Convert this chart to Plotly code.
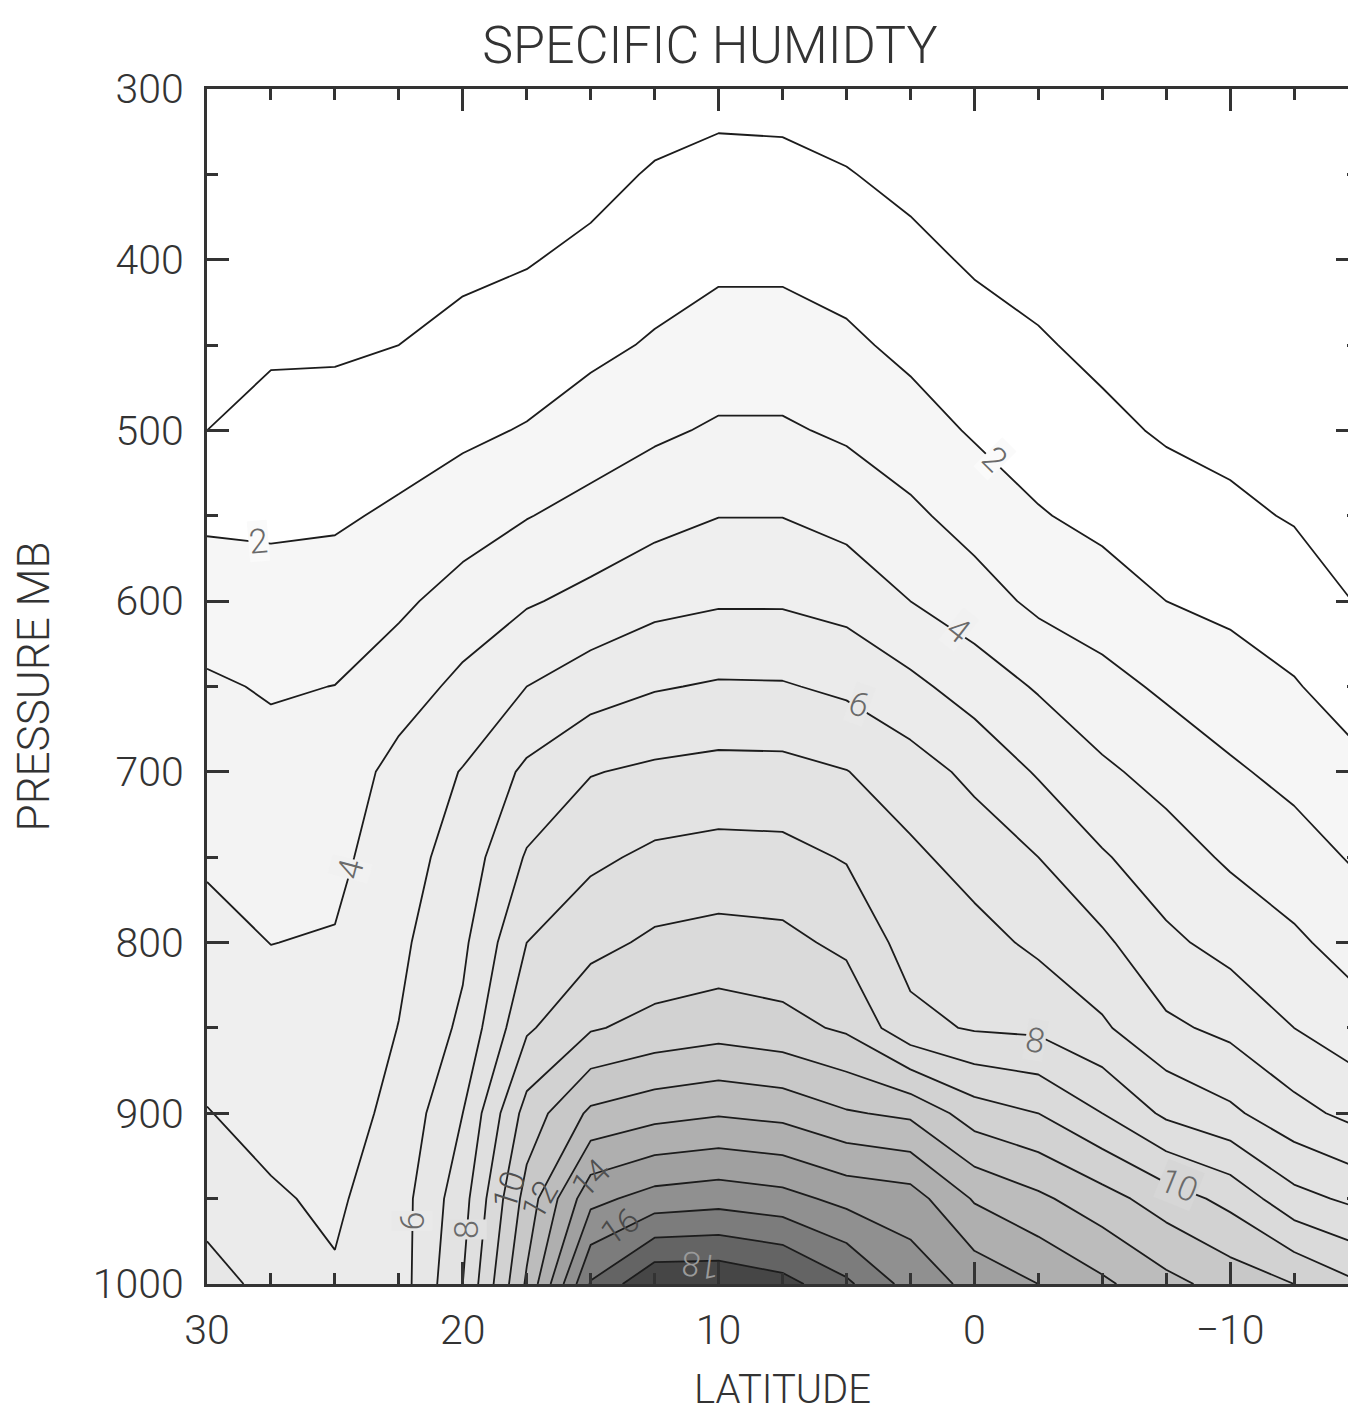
import plotly.graph_objects as go

# latitude columns (deg N) and pressure levels (mb)
LAT = [30, 27.5, 25, 22.5, 20, 17.5, 15, 12.5, 10, 7.5, 5, 2.5, 0,
       -2.5, -5, -7.5, -10, -12.5, -15]
PRES = [1000, 950, 900, 850, 800, 750, 700, 650, 600, 550, 500, 450, 400, 350, 300]

# specific humidity (g/kg), one row per pressure level
q1000 = [6.4, 5.7, 5.1, 5.5, 8.0, 12.15, 17.1, 18.9, 18.9, 18.4, 17.2, 15.6, 14.7, 14.0, 13.2, 12.3, 11.6, 11.0, 10.1]
q950 = [5.6, 5.1, 4.85, 5.55, 7.6, 11.4, 14.7, 15.4, 15.6, 15.35, 14.7, 14.45, 12.9, 12.2, 11.4, 10.5, 9.7, 8.33, 7.75]
q900 = [5.03, 4.73, 4.6, 5.25, 7.0, 10.4, 12.2, 12.65, 12.9, 12.7, 12.1, 11.8, 10.5, 10.0, 9.0, 7.8, 7.2, 6.33, 5.67]
q850 = [4.65, 4.36, 4.33, 5.02, 6.2, 8.85, 9.9, 10.32, 10.57, 10.33, 9.84, 8.3, 7.9, 7.8, 7.15, 6.2, 5.75, 5.0, 4.4]
q800 = [4.27, 3.99, 4.07, 4.8, 5.8, 8.0, 8.7, 9.18, 9.34, 9.25, 8.78, 7.6, 7.35, 6.8, 6.2, 5.2, 4.67, 4.17, 3.57]
q750 = [3.89, 3.65, 3.74, 4.6, 5.4, 7.1, 7.8, 8.2, 8.34, 8.3, 7.93, 7.2, 6.6, 6.0, 5.1, 4.43, 3.86, 3.41, 2.87]
q700 = [3.5, 3.3, 3.38, 4.35, 5.05, 6.2, 6.95, 7.18, 7.31, 7.29, 7.03, 6.45, 5.75, 4.9, 4.17, 3.67, 3.14, 2.73, 2.2]
q650 = [3.12, 2.92, 3.01, 3.52, 4.25, 5.0, 5.54, 5.92, 6.10, 6.08, 5.8, 5.25, 4.55, 3.9, 3.33, 2.83, 2.44, 2.07, 1.55]
q600 = [2.54, 2.37, 2.44, 2.82, 3.38, 3.9, 4.27, 4.70, 4.89, 4.89, 4.65, 4.0, 3.45, 2.78, 2.45, 2.0, 1.78, 1.49, 0.95]
q550 = [1.83, 1.82, 1.87, 2.15, 2.55, 2.96, 3.32, 3.68, 3.98, 3.98, 3.67, 3.2, 2.6, 2.07, 1.75, 1.42, 1.18, 0.93, 0.7]
q500 = [1.0, 1.29, 1.35, 1.56, 1.8, 2.07, 2.48, 2.84, 3.12, 3.12, 2.85, 2.4, 1.9, 1.55, 1.2, 0.9, 0.75, 0.65, 0.5]
q450 = [0.8, 0.88, 0.88, 1.0, 1.2, 1.4, 1.77, 2.1, 2.43, 2.43, 2.18, 1.77, 1.4, 1.09, 0.8, 0.65, 0.5, 0.45, 0.35]
q400 = [0.6, 0.7, 0.72, 0.8, 0.85, 0.95, 1.19, 1.57, 1.80, 1.8, 1.6, 1.26, 0.88, 0.7, 0.55, 0.4, 0.3, 0.25, 0.2]
q350 = [0.45, 0.5, 0.55, 0.6, 0.65, 0.75, 0.75, 1.08, 1.26, 1.24, 1.05, 0.75, 0.5, 0.4, 0.3, 0.2, 0.15, 0.1, 0.1]
q300 = [0.3, 0.35, 0.4, 0.45, 0.5, 0.55, 0.5, 0.58, 0.72, 0.69, 0.51, 0.35, 0.2, 0.15, 0.1, 0.05, 0.05, 0.05, 0.05]

Q = [q1000, q950, q900, q850, q800, q750, q700, q650, q600, q550, q500,
     q450, q400, q350, q300]

# contour labels shown on the chart (every other level)
LABEL_TEXT = ["2", "2", "4", "4", "6", "6", "8", "8", "10", "10", "12", "14", "16", "18"]
LABEL_LAT = [28.0, -0.8, 24.4, 0.6, 4.5, 22.0, -2.4, 19.85, -8.0, 18.2, 17.0, 15.0, 13.85, 10.7]
LABEL_P = [565, 517, 757, 617, 660, 963, 857, 968, 942, 945, 951, 938, 966, 989]

# grey level of each band: <1, 1-2, 2-3, ... 17-18, >18
BAND_GREY = [255, 255, 246, 243, 239, 235, 231, 227, 223, 218,
             210, 200, 188, 175, 160, 144, 124, 100, 70]

n = len(BAND_GREY) - 1
colorscale = [[i / n, "rgb({0},{0},{0})".format(g)] for i, g in enumerate(BAND_GREY)]

FONT = "Roboto, Liberation Sans, Arial, sans-serif"
INK = "#333333"
LINE = "#1c1c1c"

fig = go.Figure()

# filled bands
fig.add_trace(go.Contour(
    x=LAT, y=PRES, z=Q,
    colorscale=colorscale, showscale=False,
    contours=dict(start=1, end=18, size=1, coloring="fill"),
    line=dict(width=0, smoothing=0),
    hoverinfo="skip",
))

# contour lines, every 1 g/kg
fig.add_trace(go.Contour(
    x=LAT, y=PRES, z=Q, showscale=False,
    contours=dict(start=1, end=18, size=1, coloring="none"),
    line=dict(width=1.8, color=LINE, smoothing=0),
    hoverinfo="skip",
))

# label angle along the line; labels in the open (light) part cut the line with
# a patch of the band grey, the crowded ones near the surface sit on top
label_angle = [-5, 45, -75, 38, 20, -90, 10, -90, 22, -72, -60, -45, -35, 188]
label_patch = [True, True, True, True, True, True, True, True, True, False, False, False, False, False]
for text, lat, p, ang, patch in zip(LABEL_TEXT, LABEL_LAT, LABEL_P, label_angle, label_patch):
    lvl = int(text)
    g = (BAND_GREY[lvl - 1] + BAND_GREY[lvl]) // 2
    if patch:
        colour = "#6a6a6a"
    elif lvl >= 18:
        colour = "#9a9a9a"
    elif lvl >= 16:
        colour = "#4a4a4a"
    else:
        colour = "#505050"
    fig.add_annotation(
        x=lat, y=p, text=text, showarrow=False, textangle=ang,
        font=dict(family=FONT, size=34, color=colour, weight=300),
        bgcolor="rgb({0},{0},{0})".format(g) if patch else "rgba(0,0,0,0)", borderpad=0,
    )

axis_common = dict(
    showline=True, linecolor=INK, linewidth=3, mirror="ticks",
    ticks="inside", ticklen=22, tickwidth=3, tickcolor=INK,
    showgrid=False, zeroline=False, automargin=False,
    tickfont=dict(family=FONT, size=41, color=INK, weight=300),
)

fig.update_xaxes(
    range=[30, -15], tickvals=[30, 20, 10, 0, -10],
    minor=dict(ticks="inside", ticklen=11, tickwidth=3, tickcolor=INK, dtick=2.5, tick0=0),
    title=dict(text="LATITUDE", font=dict(family=FONT, size=40, color=INK, weight=300), standoff=22),
    ticklabelstandoff=8,
    **axis_common,
)
fig.update_yaxes(
    range=[1000, 300], tickvals=[300, 400, 500, 600, 700, 800, 900, 1000],
    minor=dict(ticks="inside", ticklen=11, tickwidth=3, tickcolor=INK, dtick=50, tick0=0),
    title=dict(text="PRESSURE MB", font=dict(family=FONT, size=44, color=INK, weight=300), standoff=33),
    ticklabelstandoff=12,
    **axis_common,
)

# the page adds an 8px body margin, so the figure is offset by that much
fig.update_layout(
    width=1352, height=1409,
    margin=dict(l=199, r=2, t=81, b=133),
    paper_bgcolor="white", plot_bgcolor="white",
    title=dict(text="SPECIFIC HUMIDTY", x=0.437, xref="paper", xanchor="center",
               y=1 - 37 / 1409, yref="container", yanchor="middle",
               font=dict(family=FONT, size=52, color=INK, weight=300)),
    showlegend=False,
)

fig.write_html("out.html")
